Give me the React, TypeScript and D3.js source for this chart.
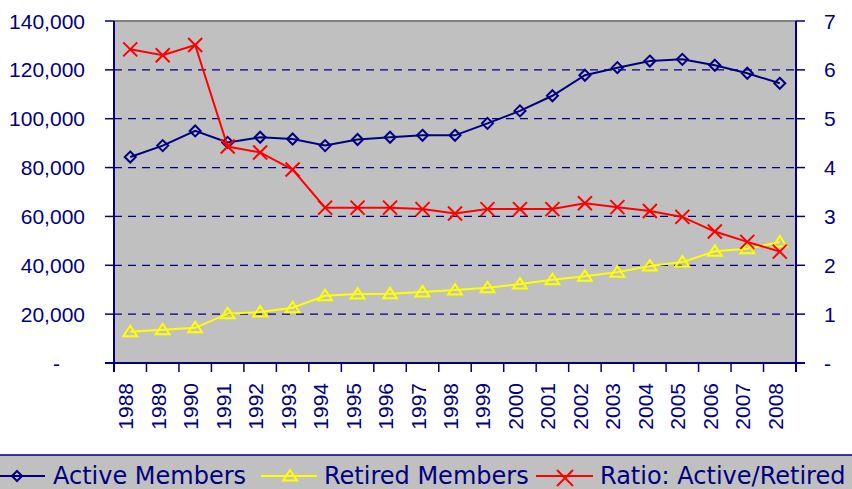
import React from 'react';
import * as d3 from 'd3';

const years = ['1988', '1989', '1990', '1991', '1992', '1993', '1994', '1995', '1996', '1997', '1998',
  '1999', '2000', '2001', '2002', '2003', '2004', '2005', '2006', '2007', '2008'];

const activeMembers = [84300, 89000, 95000, 90300, 92400, 91700, 89000, 91500, 92400, 93200, 93200,
  98100, 103200, 109400, 117800, 120900, 123600, 124300, 121900, 118600, 114500];

const retiredMembers = [12800, 13600, 14400, 20200, 20900, 22600, 27500, 28200, 28300, 29100, 29900,
  30800, 32300, 34100, 35500, 37200, 39700, 41300, 45700, 46800, 49500];

const ratio = [6.42, 6.3, 6.51, 4.43, 4.31, 3.96, 3.18, 3.18, 3.18, 3.15, 3.06,
  3.15, 3.15, 3.15, 3.27, 3.19, 3.11, 2.99, 2.69, 2.48, 2.28];

const leftTicks = [0, 20000, 40000, 60000, 80000, 100000, 120000, 140000];
const rightTicks = [0, 1, 2, 3, 4, 5, 6, 7];

const NAVY = '#000080';
const YELLOW = '#ffff00';
const RED = '#ff0000';

const W = 852;
const H = 489;
const plot = { left: 114, right: 796, top: 21, bottom: 363 };

const diamond = (r: number) => `M0,${-r}L${r},0L0,${r}L${-r},0Z`;
const triangle = (r: number) => `M0,${-r}L${r * 1.15},${r * 0.75}L${-r * 1.15},${r * 0.75}Z`;
const cross = (r: number) => `M${-r},${-r}L${r},${r}M${-r},${r}L${r},${-r}`;

export default function App() {
  const x = d3.scaleBand().domain(years).range([plot.left, plot.right]);
  const yL = d3.scaleLinear().domain([0, 140000]).range([plot.bottom, plot.top]);
  const yR = d3.scaleLinear().domain([0, 7]).range([plot.bottom, plot.top]);
  const cx = (d: string) => (x(d) as number) + x.bandwidth() / 2;

  const lineL = d3.line<number>().x((_, i) => cx(years[i])).y(d => yL(d));
  const lineR = d3.line<number>().x((_, i) => cx(years[i])).y(d => yR(d));
  const fmt = d3.format(',');
  const font = '"Liberation Sans", Arial, sans-serif';

  return (
    <svg width={W} height={H} style={{ position: 'absolute', left: 0, top: 0, background: '#fff' }}>
      <rect x={plot.left} y={plot.top} width={plot.right - plot.left} height={plot.bottom - plot.top} fill="#c0c0c0" />
      <line x1={plot.left} x2={plot.right} y1={plot.top} y2={plot.top} stroke="#808080" strokeWidth={2} />

      {leftTicks.filter(t => t > 0 && t < 140000).map(t => (
        <line key={t} x1={plot.left} x2={plot.right} y1={yL(t)} y2={yL(t)} stroke={NAVY} strokeWidth={1.3} strokeDasharray="8,6" />
      ))}

      {/* axes */}
      <line x1={plot.left} x2={plot.left} y1={plot.top} y2={plot.bottom + 9} stroke={NAVY} strokeWidth={2} />
      <line x1={plot.right} x2={plot.right} y1={plot.top} y2={plot.bottom + 9} stroke={NAVY} strokeWidth={2} />
      <line x1={plot.left - 9} x2={plot.right + 9} y1={plot.bottom} y2={plot.bottom} stroke={NAVY} strokeWidth={2} />

      {leftTicks.map(t => (
        <g key={'l' + t}>
          <line x1={plot.left - 9} x2={plot.left} y1={yL(t)} y2={yL(t)} stroke={NAVY} strokeWidth={1.5} />
          <text x={t === 0 ? 60 : 85} y={yL(t)} dy="0.36em" textAnchor="end" fontFamily={font} fontSize={21} fill={NAVY}>
            {t === 0 ? '-' : fmt(t)}
          </text>
        </g>
      ))}
      {rightTicks.map(t => (
        <g key={'r' + t}>
          <line x1={plot.right} x2={plot.right + 9} y1={yR(t)} y2={yR(t)} stroke={NAVY} strokeWidth={1.5} />
          <text x={824} y={yR(t)} dy="0.36em" textAnchor="start" fontFamily={font} fontSize={21} fill={NAVY}>
            {t === 0 ? '-' : t}
          </text>
        </g>
      ))}
      {years.map(yr => (
        <g key={yr}>
          <line x1={x(yr) as number} x2={x(yr) as number} y1={plot.bottom} y2={plot.bottom + 9} stroke={NAVY} strokeWidth={1.5} />
          <text transform={`translate(${cx(yr) + 3},383) rotate(-90)`} textAnchor="end" fontFamily={font} fontSize={21} fill={NAVY}>
            {yr}
          </text>
        </g>
      ))}

      {/* series */}
      <path d={lineL(activeMembers) || ''} fill="none" stroke={NAVY} strokeWidth={2} />
      {activeMembers.map((v, i) => (
        <path key={'a' + i} d={diamond(5.5)} transform={`translate(${cx(years[i])},${yL(v)})`} fill="none" stroke={NAVY} strokeWidth={2} />
      ))}
      <path d={lineL(retiredMembers) || ''} fill="none" stroke={YELLOW} strokeWidth={2} />
      {retiredMembers.map((v, i) => (
        <path key={'b' + i} d={triangle(6)} transform={`translate(${cx(years[i])},${yL(v)})`} fill="none" stroke={YELLOW} strokeWidth={2} />
      ))}
      <path d={lineR(ratio) || ''} fill="none" stroke={RED} strokeWidth={2} />
      {ratio.map((v, i) => (
        <path key={'c' + i} d={cross(7)} transform={`translate(${cx(years[i])},${yR(v)})`} fill="none" stroke={RED} strokeWidth={2} />
      ))}

      {/* legend */}
      <rect x={-10} y={455} width={W + 20} height={50} fill="#c0c0c0" stroke={NAVY} strokeWidth={1.5} />
      <line x1={0} x2={45} y1={476} y2={476} stroke={NAVY} strokeWidth={2} />
      <path d={diamond(5)} transform="translate(17,476)" fill="none" stroke={NAVY} strokeWidth={2} />
      <text x={53} y={484} fontFamily='"DejaVu Sans", sans-serif' fontSize={24} fill={NAVY}>Active Members</text>
      <line x1={261} x2={317} y1={476} y2={476} stroke={YELLOW} strokeWidth={2} />
      <path d={triangle(6)} transform="translate(290,476)" fill="none" stroke={YELLOW} strokeWidth={2} />
      <text x={324} y={484} fontFamily='"DejaVu Sans", sans-serif' fontSize={24} fill={NAVY}>Retired Members</text>
      <line x1={536} x2={593} y1={476} y2={476} stroke={RED} strokeWidth={2} />
      <path d={cross(8)} transform="translate(565,478)" fill="none" stroke={RED} strokeWidth={2} />
      <text x={600} y={484} fontFamily='"DejaVu Sans", sans-serif' fontSize={24} fill={NAVY}>Ratio: Active/Retired</text>
    </svg>
  );
}
